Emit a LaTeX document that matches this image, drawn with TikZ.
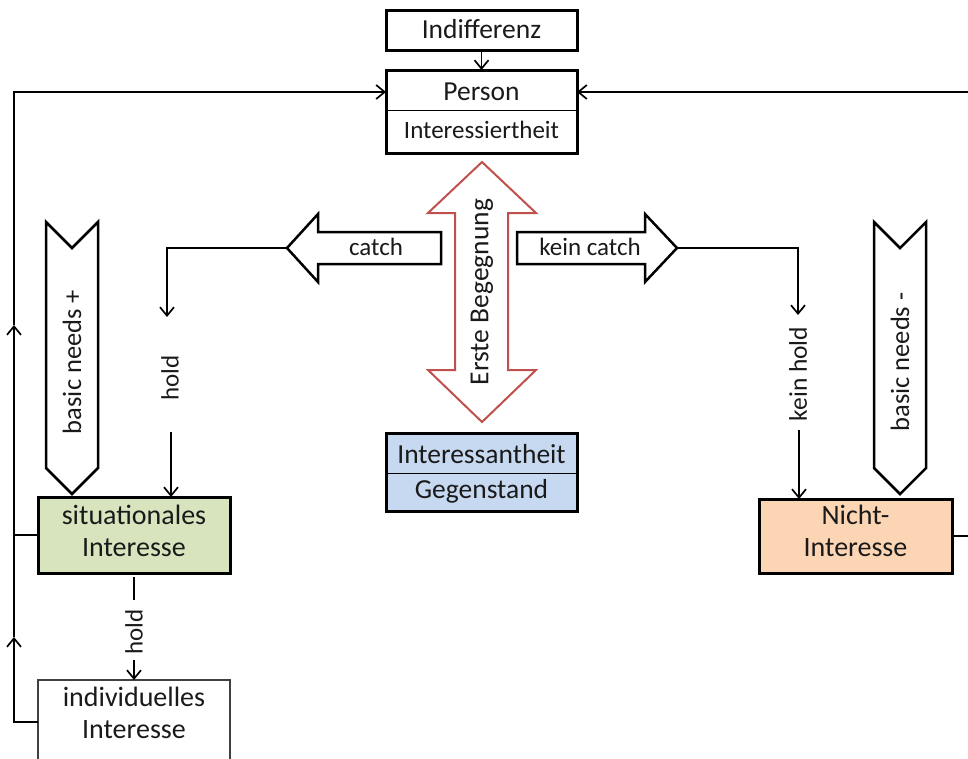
\documentclass[tikz,border=0pt]{standalone}
\usepackage{fontspec}
\setmainfont{Carlito}
\usetikzlibrary{arrows.meta}
\definecolor{sitgreen}{HTML}{D7E4BD}
\definecolor{gegblue}{HTML}{C6D9F1}
\definecolor{nichtorange}{HTML}{FCD5B5}
\definecolor{begred}{HTML}{C0504D}
\definecolor{txtc}{HTML}{1A1A1A}
\begin{document}
\begin{tikzpicture}[x=1pt,y=-1pt,
  txt/.style={font=\fontsize{25}{31}\selectfont, text=txtc, inner sep=0pt, align=center},
  fbig/.style={font=\fontsize{27.5}{32}\selectfont},
  fmid/.style={font=\fontsize{26.5}{32}\selectfont},
  fsit/.style={font=\fontsize{28}{32}\selectfont},
  box/.style={draw, line width=3pt, inner sep=0pt, outer sep=0pt, align=center, text=txtc},
  thinbox/.style={draw=black!75, line width=1.5pt, inner sep=0pt, outer sep=0pt, align=center, text=txtc},
  conn/.style={line width=1.7pt},
  tip/.style={-{Straight Barb[length=8.5pt,width=14pt,line width=1.7pt]}},
  blockarrow/.style={draw, line width=2.5pt, fill=white, line join=miter},
  chev/.style={draw, line width=2.5pt, fill=white, line join=miter}
]
\useasboundingbox (0,0) rectangle (968,758);

% top boxes
\node[box, minimum width=191pt, minimum height=40pt] (indif) at (481.5,30) {};
\node[txt, fbig] (indiftext) at (481.5,29) {Indifferenz};
\node[box, minimum width=191pt, minimum height=83pt] (person) at (481.5,111.5) {};
\draw[line width=1pt] (386,110) -- (577,110);
\node[txt, fbig] (persname) at (481.5,92) {Person};
\node[txt] (persint) at (481.5,130) {Interessiertheit};

% Gegenstand box
\node[box, fill=gegblue, minimum width=191pt, minimum height=78pt] (geg) at (481.5,472) {};
\draw[line width=1pt] (386,473) -- (577,473);
\node[txt, fbig] (gegint) at (481.5,454) {Interessantheit};
\node[txt, fbig] (gegname) at (481.5,491) {Gegenstand};

% red double arrow
\draw[begred, line width=2pt, fill=white, line join=miter]
  (482,162) -- (536,213) -- (508,213) -- (508,370) -- (536,370) -- (482,422)
  -- (428,370) -- (455,370) -- (455,213) -- (428,213) -- cycle;
\node[txt, fbig, rotate=90] (begegnung) at (482,292) {Erste Begegnung};

% catch arrows
\draw[blockarrow] (441,232) -- (318,232) -- (318,214) -- (287,248) -- (318,282) -- (318,264) -- (441,264) -- cycle;
\node[txt] (catch) at (376,247) {catch};
\draw[blockarrow] (517,232) -- (645,232) -- (645,214) -- (677,248) -- (645,282) -- (645,264) -- (517,264) -- cycle;
\node[txt] (keincatch) at (590,247) {kein catch};

% chevrons
\draw[chev] (46,222) -- (72,248) -- (98,222) -- (98,468) -- (72,494) -- (46,468) -- cycle;
\node[txt, fmid, rotate=90] (bnplus) at (72,362) {basic needs +};
\draw[chev] (874,222) -- (900,248) -- (926,222) -- (926,468) -- (900,494) -- (874,468) -- cycle;
\node[txt, fmid, rotate=90] (bnminus) at (900,362) {basic needs -};

% lower boxes
\node[box, fill=sitgreen, minimum width=192pt, minimum height=76pt] (sit) at (134,535) {};
\node[txt, fsit] (sittext) at (134,531) {situationales\\Interesse};
\node[box, fill=nichtorange, minimum width=193pt, minimum height=74pt] (nicht) at (855.5,536) {};
\node[txt, fsit] (nichttext) at (855.5,531) {Nicht-\\Interesse};
\node[thinbox, minimum width=192pt, minimum height=84pt] (indiv) at (134,722) {};
\node[txt, fsit] (indivtext) at (134,713) {individuelles\\Interesse};

% connectors
\draw[conn, tip] (indif) -- (person);

\coordinate (LA) at (14,637);
\coordinate (LC) at (14,325);
\coordinate (LD) at (14,92);
\draw[conn, tip] (indiv.west) -| (LA);
\draw[conn] (LA) -- (sit.west -| LA);
\draw[conn, tip] (sit.west) -| (LC);
\draw[conn, tip] (LC) -- (LD) -- (person.west |- LD);

\coordinate (RD) at (978,92);
\draw[conn, tip] (nicht.east) -| (RD) -- (person.east |- RD);

\coordinate (catchtip) at (287,248);
\coordinate (holdLtop) at (167,317);
\draw[conn, tip] (catchtip) -| (holdLtop);
\node[txt, rotate=90] (holdL) at (170,378) {hold};
\coordinate (holdLbot) at (171,432);
\draw[conn, tip] (holdLbot) -- (holdLbot |- sit.north);

\coordinate (kctip) at (677,248);
\coordinate (kholdtop) at (798,315);
\draw[conn, tip] (kctip) -| (kholdtop);
\node[txt, font=\fontsize{25.5}{30}\selectfont, rotate=90] (kholdR) at (798,374) {kein hold};
\coordinate (kholdbot) at (799,430);
\draw[conn, tip] (kholdbot) -- (kholdbot |- nicht.north);

\coordinate (h2a) at (134,600);
\coordinate (h2b) at (134,660);
\draw[conn, shorten <=4pt] (sit.south) -- (h2a);
\node[txt, rotate=90] (hold2) at (134,632) {hold};
\draw[conn, tip] (h2b) -- (indiv.north);
\end{tikzpicture}
\end{document}
